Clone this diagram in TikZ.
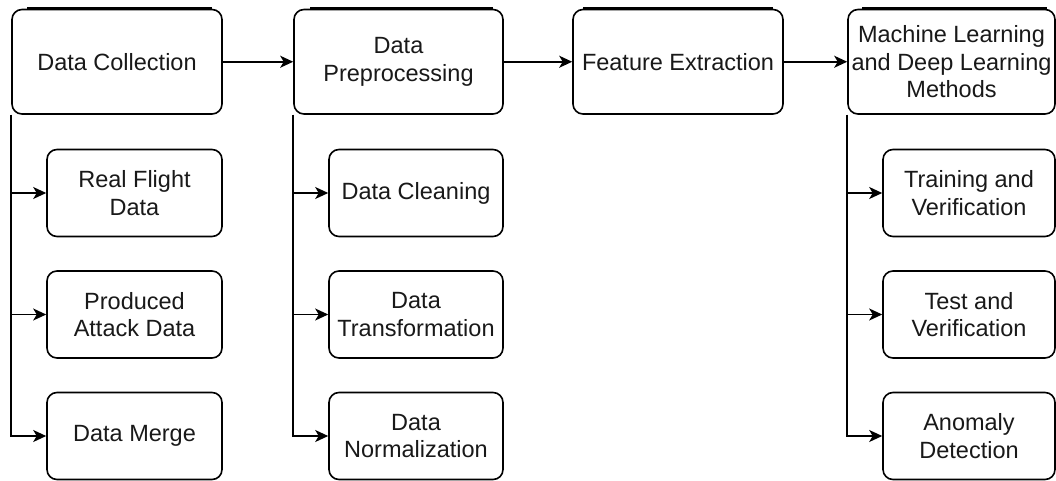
\documentclass[tikz,border=0pt]{standalone}
\usepackage{fontspec}
\setmainfont{Liberation Sans}
\usetikzlibrary{arrows.meta}
\begin{document}
\begin{tikzpicture}[x=1pt,y=-1pt,
  box/.style={draw=black, line width=1.6pt, rounded corners=10pt, fill=white,
    align=center, inner sep=0pt, text=black!90,
    font=\fontsize{23.5}{27.5}\selectfont},
  topbox/.style={box, minimum height=104.5pt},
  subbox/.style={box, minimum height=87pt},
  arr/.style={draw=black, line width=1.6pt, -{Stealth[length=13pt,width=12pt,inset=3.5pt]}},
  bar/.style={draw=black, line width=2.2pt}]
\useasboundingbox (0,0) rectangle (1056,481);
% top row
\node[topbox, minimum width=210pt] (dc) at (117,61.75) {Data Collection};
\node[topbox, minimum width=209pt] (dp) at (398.5,61.75) {Data\\Preprocessing};
\node[topbox, minimum width=210pt] (fe) at (678,61.75) {Feature Extraction};
\node[topbox, minimum width=207pt] (ml) at (951.5,61.75) {Machine Learning\\and Deep Learning\\Methods};
% top bars
\draw[bar] (27,7.7) -- (212,7.7);
\draw[bar] (310,7.7) -- (493,7.7);
\draw[bar] (583,7.7) -- (773,7.7);
\draw[bar] (862,7.7) -- (1047,7.7);
% column 1
\node[subbox, minimum width=175pt] (rf) at (134.5,193) {Real Flight\\Data};
\node[subbox, minimum width=175pt] (pa) at (134.5,314.5) {Produced\\Attack Data};
\node[subbox, minimum width=175pt] (dm) at (134.5,436) {Data Merge};
% column 2
\node[subbox, minimum width=174pt] (dcl) at (416,193) {Data Cleaning};
\node[subbox, minimum width=174pt] (dt) at (416,314.5) {Data\\Transformation};
\node[subbox, minimum width=174pt] (dn) at (416,436) {Data\\Normalization};
% column 3
\node[subbox, minimum width=172pt] (tv) at (969,193) {Training and\\Verification};
\node[subbox, minimum width=172pt] (ttv) at (969,314.5) {Test and\\Verification};
\node[subbox, minimum width=172pt] (ad) at (969,436) {Anomaly\\Detection};
% main flow
\draw[arr] (dc.east) -- (dp.west);
\draw[arr] (dp.east) -- (fe.west);
\draw[arr] (fe.east) -- (ml.west);
% branches
\foreach \s in {rf,pa,dm} \draw[arr] (dc.south west) |- (\s.west);
\foreach \s in {dcl,dt,dn} \draw[arr] (dp.south west) |- (\s.west);
\foreach \s in {tv,ttv,ad} \draw[arr] (ml.south west) |- (\s.west);
\end{tikzpicture}
\end{document}
